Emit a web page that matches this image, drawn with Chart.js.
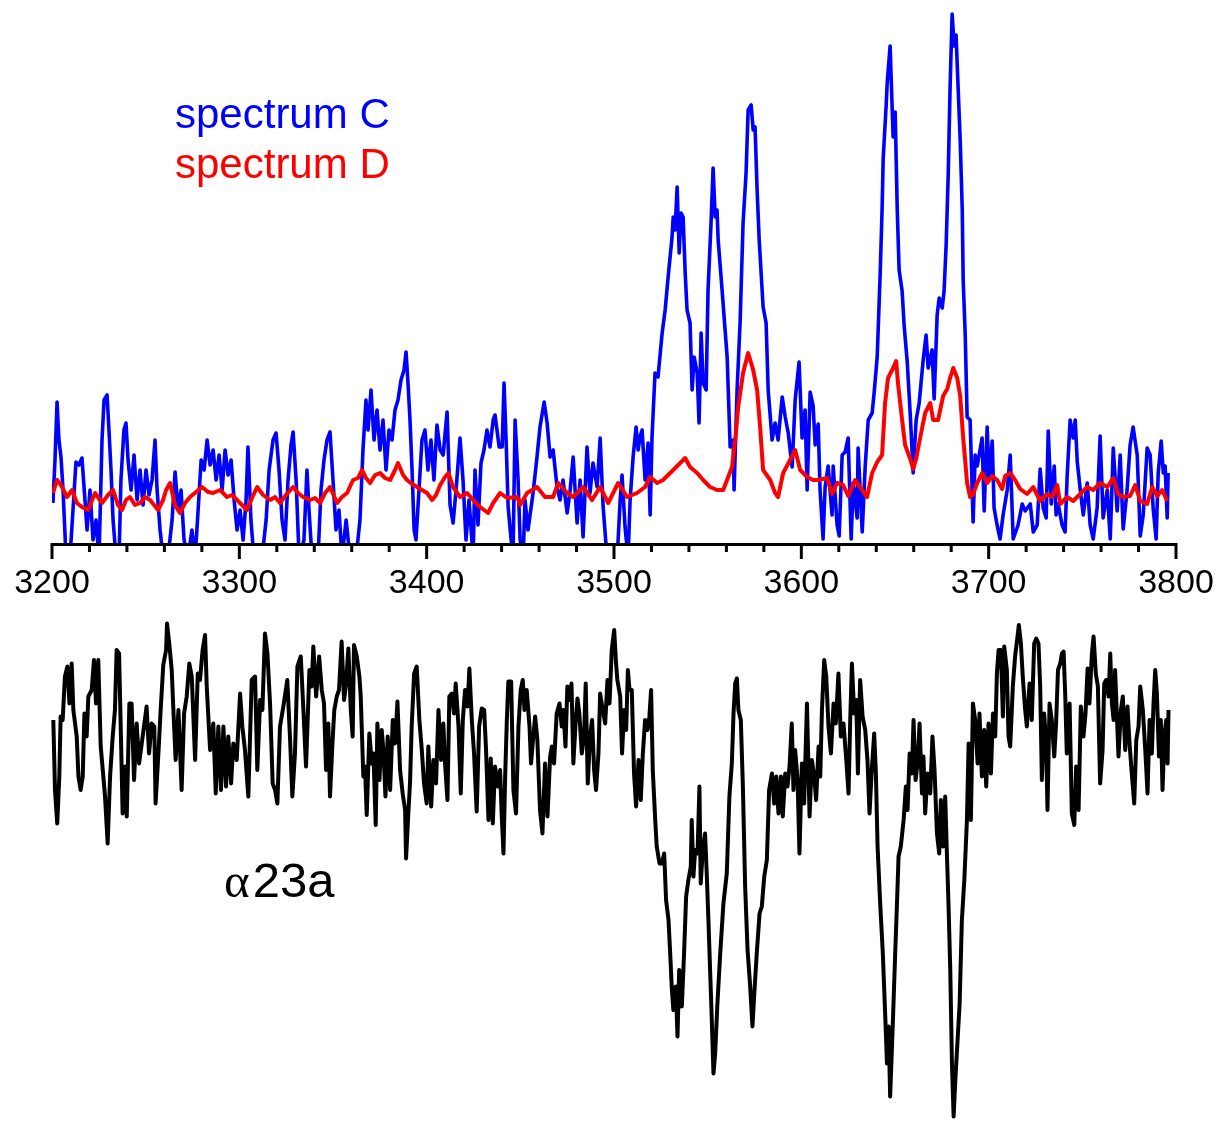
<!DOCTYPE html>
<html>
<head>
<meta charset="utf-8">
<title>spectrum C / spectrum D / α23a</title>
<script src="https://cdn.jsdelivr.net/npm/chart.js@4.4.1/dist/chart.umd.min.js"></script>
<style>
  html, body { margin: 0; padding: 0; background: #fff; }
  #wrap { position: relative; width: 1220px; height: 1126px; overflow: hidden; font-family: "Liberation Sans", Arial, sans-serif; }
  .pane { position: absolute; left: 0; width: 1220px; }
  #topPane { top: 0; height: 610px; }
  #bottomPane { top: 610px; height: 516px; }
  .label { position: absolute; white-space: nowrap; line-height: 1; }
  #labC { left: 175px; top: 93px; font-size: 42px; color: #0000ff; }
  #labD { left: 175px; top: 143px; font-size: 42px; color: #ff0000; }
  #labA { left: 224px; top: 856px; font-size: 49px; color: #000; }
  #labA .greek { font-family: "Liberation Serif", "Times New Roman", serif; letter-spacing: 3px; }
</style>
</head>
<body>
<div id="wrap">
  <div class="pane" id="topPane"><canvas id="topChart" width="1220" height="610"></canvas></div>
  <div class="pane" id="bottomPane"><canvas id="bottomChart" width="1220" height="516"></canvas></div>
  <div class="label" id="labC">spectrum C</div>
  <div class="label" id="labD">spectrum D</div>
  <div class="label" id="labA"><span class="greek">α</span>23a</div>
</div>
<script>
// x axis (wavenumber)
const X_MIN = 3200, X_MAX = 3800;
const xMajorTicks = [3200, 3300, 3400, 3500, 3600, 3700, 3800];
const MINOR_STEP = 20;

// spectrum C (blue)
const specCx = [
  3200.5,3201.6,3202.7,3203.7,3204.8,3205.9,3207.5,3209.6,3211.2,3212.8,3214.4,3216.0,3217.6,3218.7,3220.3,3221.9,3223.5,3225.1,
  3226.7,3227.8,3229.4,3230.4,3231.5,3232.6,3234.2,3235.8,3236.8,3238.4,3239.5,3240.6,3242.2,3243.8,3245.4,3247.0,3248.6,3250.2,
  3251.8,3253.4,3255.0,3256.1,3257.7,3259.3,3261.9,3264.1,3265.7,3267.3,3268.9,3270.5,3272.6,3274.7,3276.4,3278.0,3279.6,3281.2,
  3282.8,3284.4,3286.0,3287.6,3289.2,3290.8,3292.4,3294.0,3295.6,3297.2,3298.8,3300.4,3302.0,3303.6,3304.6,3306.2,3307.8,3312.1,
  3314.3,3315.9,3318.0,3319.6,3321.2,3322.8,3324.4,3326.0,3327.6,3328.7,3330.3,3331.9,3334.5,3336.1,3337.2,3338.8,3342.0,3343.6,
  3345.2,3346.8,3348.4,3350.0,3351.6,3353.2,3354.8,3357.0,3359.1,3362.3,3364.4,3366.0,3367.6,3368.7,3370.3,3371.9,3373.5,3375.1,
  3376.7,3378.3,3379.9,3381.5,3383.1,3384.7,3386.3,3387.9,3389.0,3390.1,3391.1,3392.2,3393.3,3394.3,3395.9,3397.5,3399.1,3400.7,
  3402.3,3403.9,3405.5,3407.2,3408.8,3410.9,3412.5,3414.1,3415.7,3417.8,3419.4,3421.0,3422.6,3424.8,3425.8,3427.4,3429.0,3430.6,
  3432.2,3433.8,3435.5,3436.5,3438.7,3440.3,3441.3,3442.4,3443.5,3445.1,3446.1,3447.2,3448.8,3449.9,3451.5,3452.5,3454.1,3456.8,
  3458.9,3460.5,3462.7,3464.3,3465.9,3467.5,3469.6,3471.2,3472.8,3475.0,3476.6,3478.2,3480.3,3481.9,3483.5,3485.6,3487.2,3488.8,
  3491.0,3492.6,3494.2,3496.3,3501.7,3503.3,3504.3,3505.9,3507.5,3508.6,3510.2,3511.8,3512.9,3513.9,3515.0,3516.6,3518.2,3519.3,
  3520.3,3521.9,3523.5,3525.7,3527.3,3528.9,3531.0,3531.6,3532.6,3533.7,3534.8,3535.8,3536.9,3538.0,3539.0,3540.6,3541.7,3542.8,
  3544.4,3545.4,3546.5,3547.6,3549.2,3550.2,3551.8,3552.9,3554.0,3555.0,3555.6,3557.7,3559.3,3560.4,3562.0,3563.6,3564.1,3565.7,
  3567.3,3568.9,3570.5,3571.6,3573.2,3574.3,3575.3,3576.4,3577.5,3579.6,3581.2,3582.3,3584.4,3586.0,3587.6,3589.8,3591.4,3593.0,
  3595.1,3596.7,3598.8,3600.4,3602.0,3603.1,3604.7,3606.3,3607.4,3609.0,3610.0,3611.6,3612.7,3614.3,3616.4,3617.0,3619.1,3620.2,
  3621.8,3623.4,3625.0,3626.6,3627.7,3629.8,3630.3,3632.5,3634.1,3635.7,3637.8,3638.9,3640.5,3642.1,3643.1,3643.7,3645.3,3645.8,
  3647.4,3648.5,3649.0,3650.1,3651.2,3652.2,3653.8,3654.9,3656.5,3658.1,3659.7,3661.3,3662.9,3665.0,3666.6,3667.7,3669.8,3670.9,
  3672.5,3673.6,3675.2,3676.2,3677.3,3678.4,3679.4,3680.5,3681.6,3682.6,3683.7,3684.8,3685.9,3686.4,3687.5,3688.5,3690.1,3691.7,
  3692.8,3693.9,3696.5,3697.6,3699.2,3700.3,3701.9,3702.9,3704.5,3706.1,3707.7,3709.9,3711.5,3713.1,3715.7,3717.9,3719.5,3722.2,
  3723.8,3725.9,3727.5,3729.1,3730.7,3731.8,3733.4,3735.0,3736.0,3737.1,3739.2,3740.8,3741.9,3743.5,3745.1,3746.2,3747.3,3748.9,
  3750.5,3752.6,3754.2,3755.8,3757.9,3759.5,3761.1,3763.3,3764.9,3766.5,3768.6,3770.2,3771.8,3773.9,3775.5,3777.1,3779.3,3780.9,
  3782.5,3784.6,3786.2,3787.8,3789.4,3790.5,3792.1,3793.2,3794.2,3795.3,3795.8
];
const specCy = [
  8.0,16.6,28.2,20.6,17.2,10.6,-3,-3,6.6,16.2,15.6,17.0,8.6,2.6,10.6,0.6,4.6,-3,
  20.6,28.6,29.6,22.6,14.6,4.6,-3,-3,12.6,22.6,24.0,16.6,10.6,17.6,8.6,14.6,7.6,14.6,
  9.6,12.6,20.6,10.6,2.6,-3,-3,4.6,14.2,6.6,10.6,0.6,-3,2.6,-3,6.6,16.6,14.6,
  20.6,15.6,18.6,12.6,17.6,10.6,18.6,13.6,16.6,8.6,2.6,6.6,0.6,8.6,19.2,4.6,-3,-3,
  4.6,14.6,20.6,22.0,14.6,4.6,0.6,12.6,19.6,22.2,12.6,-3,0.6,14.6,6.6,-3,-3,10.6,
  16.6,20.6,22.2,12.6,2.6,6.6,-3,4.6,-3,-3,4.6,18.6,28.6,22.6,30.6,20.6,26.6,18.6,
  24.6,14.6,22.6,20.6,26.6,28.6,32.6,34.6,38.2,31.6,24.6,14.6,2.6,0.6,10.6,20.6,22.6,14.6,
  20.6,12.6,23.6,18.6,17.6,26.2,7.6,4.0,10.6,21.0,12.6,0.6,8.6,-3,14.6,3.6,16.0,18.6,
  22.6,19.2,24.6,25.6,19.2,19.2,32.0,20.6,7.2,0.6,-3,24.6,12.6,0.6,-3,8.6,2.6,10.0,
  17.2,23.2,28.2,24.0,17.2,18.6,11.2,8.6,12.6,6.0,10.6,17.2,4.0,12.6,1.2,19.2,10.0,16.0,
  11.2,21.0,7.2,-3,-3,8.6,13.6,3.2,-3,8.6,17.2,23.2,18.6,21.2,22.6,12.6,20.0,5.6,
  21.2,34.0,33.2,42.0,46.6,53.2,61.2,65.2,62.6,71.2,58.0,66.0,65.2,54.0,46.6,44.0,30.6,37.2,
  34.0,24.0,42.0,32.0,30.6,50.6,64.0,75.0,65.2,66.6,60.6,50.6,42.6,37.2,19.2,20.6,10.6,30.6,
  44.0,64.0,74.0,86.6,87.6,82.6,83.2,70.6,60.6,47.2,44.0,30.6,20.6,24.0,20.6,29.2,25.2,22.0,
  15.2,28.6,36.2,21.0,26.6,10.6,30.2,27.4,19.6,23.8,10.6,0.8,11.2,15.4,5.6,15.4,3.6,1.4,
  17.6,18.2,21.0,0.8,12.0,5.0,19.0,2.2,15.4,24.6,26.0,30.2,37.2,54.0,66.6,77.0,87.6,91.8,
  99.4,86.8,81.2,86.2,66.6,54.6,50.4,43.4,36.4,26.0,14.0,24.6,28.0,36.4,41.6,35.0,38.6,28.8,
  45.6,49.0,47.0,50.4,59.6,73.6,91.0,105.8,99.4,101.6,91.0,80.6,66.6,52.6,41.4,25.2,24.6,4.2,
  17.6,15.4,21.0,6.4,23.2,12.6,20.4,7.0,3.6,0.8,5.6,10.6,17.6,0.8,3.6,7.8,6.4,7.8,
  2.2,3.6,14.8,7.0,5.0,22.4,7.8,15.4,5.6,7.8,3.6,2.2,13.4,24.6,21.0,24.6,16.2,10.6,
  5.6,12.0,3.6,0.8,7.0,21.4,5.0,10.6,0.8,19.0,6.4,17.6,2.8,10.6,19.6,23.2,17.6,1.4,
  5.6,19.0,17.6,7.0,0.8,14.0,20.4,14.0,15.4,5.0,14.0
];

// spectrum D (red)
const specDx = [
  3200.5,3202.7,3204.8,3208.0,3210.7,3213.3,3216.0,3219.2,3223.0,3226.7,3229.9,3232.6,3235.2,3237.4,3239.5,3241.6,3244.3,3247.0,
  3249.7,3252.3,3254.5,3256.6,3259.3,3260.9,3263.0,3265.7,3268.3,3271.0,3273.7,3276.9,3280.1,3283.3,3286.0,3289.7,3293.4,3296.1,
  3298.8,3301.4,3304.1,3306.8,3309.5,3312.7,3316.4,3319.1,3321.7,3324.9,3328.7,3331.3,3334.0,3337.8,3340.4,3343.1,3345.8,3348.4,
  3352.2,3354.8,3357.5,3360.7,3363.4,3365.5,3367.6,3369.8,3372.5,3375.1,3377.8,3380.5,3383.1,3384.7,3387.4,3389.5,3392.2,3394.9,
  3397.5,3400.2,3402.9,3405.0,3407.2,3409.8,3411.6,3414.1,3417.8,3421.6,3424.8,3428.5,3432.8,3435.5,3439.2,3442.9,3448.3,3449.9,
  3453.6,3458.9,3463.2,3467.5,3470.2,3475.0,3478.2,3483.5,3488.3,3492.6,3496.9,3502.2,3507.0,3512.3,3516.6,3519.3,3523.0,3526.2,
  3531.6,3538.0,3540.6,3544.4,3547.6,3551.3,3555.0,3558.3,3563.0,3564.7,3566.3,3568.9,3571.6,3574.3,3576.4,3578.0,3579.6,3583.4,
  3586.0,3587.6,3590.3,3594.0,3596.7,3599.4,3603.1,3606.3,3609.0,3613.8,3616.4,3619.1,3622.3,3625.0,3628.7,3631.4,3635.1,3637.8,
  3640.5,3643.1,3644.7,3646.3,3649.0,3650.6,3651.7,3653.8,3655.4,3658.1,3659.7,3661.3,3663.4,3666.1,3668.8,3670.4,3673.0,3675.7,
  3677.9,3679.4,3681.1,3683.2,3684.8,3686.4,3688.5,3690.1,3691.7,3693.9,3696.5,3699.2,3701.9,3704.5,3707.2,3708.8,3711.5,3714.1,
  3716.8,3720.5,3723.8,3727.5,3731.2,3733.9,3736.6,3738.2,3741.9,3745.1,3748.9,3752.6,3755.8,3759.5,3763.3,3766.5,3769.1,3771.8,
  3775.5,3778.2,3780.9,3784.6,3787.3,3790.0,3792.6,3795.3
];
const specDy = [
  10.0,12.6,11.6,9.2,10.6,8.0,7.2,6.6,10.0,8.0,9.6,10.6,7.6,6.6,8.6,9.2,7.6,8.0,
  9.2,8.6,7.6,6.6,8.6,10.6,12.0,7.6,6.0,8.0,9.2,10.2,11.2,10.2,10.0,10.6,9.2,9.6,
  8.6,7.6,6.6,9.0,11.2,9.6,8.6,9.2,8.0,9.6,11.2,10.0,9.2,8.6,9.0,8.0,10.0,11.2,
  8.0,9.2,10.0,12.6,13.0,14.6,13.0,12.0,13.6,14.0,13.0,12.6,14.6,16.0,13.6,12.6,11.8,11.2,
  10.6,10.0,8.6,9.6,11.6,13.2,14.0,11.2,9.2,10.0,8.6,7.2,6.0,8.0,10.0,9.0,9.2,7.6,
  10.0,11.2,9.2,9.2,12.0,10.0,9.2,11.2,8.6,11.2,8.0,12.0,9.2,10.0,11.2,13.2,12.0,12.6,
  14.6,17.0,15.2,14.0,12.6,11.2,10.6,10.6,15.2,20.6,27.2,34.0,38.0,34.6,30.6,23.2,14.6,12.6,
  10.0,9.2,14.0,16.6,18.6,14.6,13.2,12.6,12.6,13.0,9.8,12.0,11.6,9.4,12.6,11.2,9.2,14.0,
  16.2,17.6,28.0,33.0,35.0,36.4,31.6,24.6,19.6,16.8,14.8,16.8,21.0,26.0,28.0,24.6,24.6,29.4,
  30.8,33.0,35.0,33.0,29.4,21.0,12.0,9.2,9.8,12.0,14.0,12.0,13.4,12.6,10.8,13.4,14.0,12.6,
  10.8,9.8,11.2,8.4,9.8,9.2,11.6,7.8,9.2,8.4,9.8,11.2,10.6,12.0,11.2,13.0,9.8,9.2,
  9.4,11.6,8.4,7.8,11.2,9.4,10.6,8.4
];

// α23a (black, lower trace)
const alphaX = [
  3200.7,3201.6,3202.8,3203.9,3204.6,3205.7,3206.9,3208.2,3209.3,3210.5,3211.4,3213.2,3214.1,3215.3,3216.4,3217.3,3218.5,3219.4,
  3221.2,3222.4,3223.5,3224.7,3226.0,3227.4,3228.3,3229.7,3231.0,3232.4,3233.6,3234.5,3235.8,3236.8,3237.7,3239.0,3239.9,3241.3,
  3242.5,3243.8,3245.2,3246.5,3247.9,3249.1,3250.5,3251.8,3253.2,3254.6,3255.3,3256.8,3258.0,3259.4,3260.9,3261.4,3262.6,3263.9,
  3264.8,3266.0,3267.5,3269.2,3270.5,3271.9,3273.3,3274.6,3276.4,3277.8,3279.0,3280.4,3281.7,3282.6,3284.4,3286.1,3287.4,3288.8,
  3290.2,3291.5,3292.9,3294.1,3295.6,3296.8,3298.6,3300.4,3301.6,3303.0,3304.8,3306.6,3308.4,3309.6,3311.1,3312.3,3313.7,3315.0,
  3316.4,3317.8,3319.1,3320.3,3321.7,3323.5,3325.6,3327.1,3328.3,3329.7,3331.0,3332.8,3334.2,3335.6,3337.4,3338.6,3339.5,3341.0,
  3342.6,3344.0,3345.2,3346.3,3347.5,3348.4,3349.7,3350.7,3352.0,3353.2,3354.6,3355.9,3357.0,3358.2,3359.5,3360.5,3361.2,3362.7,
  3364.1,3364.8,3366.2,3367.1,3368.0,3369.4,3370.7,3371.6,3372.8,3373.7,3374.8,3376.0,3376.9,3378.0,3379.2,3380.5,3381.9,3383.1,
  3384.4,3385.8,3387.2,3388.5,3389.0,3390.2,3391.1,3392.0,3393.3,3394.7,3396.1,3397.4,3398.6,3400.0,3400.9,3402.4,3403.6,3405.0,
  3406.3,3407.7,3408.9,3409.8,3411.1,3412.1,3413.4,3414.6,3415.5,3417.0,3418.2,3419.3,3420.5,3421.8,3422.8,3424.1,3425.3,3426.7,
  3428.0,3429.4,3430.7,3431.7,3433.0,3434.2,3435.3,3436.5,3437.9,3439.2,3440.1,3441.0,3441.9,3442.8,3443.6,3445.1,3446.3,3447.7,
  3449.0,3450.2,3451.3,3452.2,3453.4,3454.9,3455.7,3456.6,3457.9,3459.1,3460.5,3461.8,3463.2,3464.5,3465.9,3466.8,3468.0,3469.4,
  3470.9,3472.1,3473.0,3474.1,3475.1,3476.2,3477.3,3478.3,3479.6,3480.5,3481.5,3482.8,3484.0,3484.9,3486.0,3487.2,3488.3,3489.4,
  3490.4,3491.7,3492.6,3494.0,3495.3,3496.5,3497.6,3498.8,3500.1,3501.1,3501.8,3503.3,3504.3,3505.4,3506.5,3507.4,3508.3,3509.5,
  3510.7,3511.8,3513.1,3514.3,3515.4,3516.6,3517.9,3518.9,3519.8,3520.7,3522.0,3522.8,3524.3,3525.5,3526.8,3527.8,3529.1,3530.0,
  3530.8,3531.7,3533.0,3533.9,3534.8,3536.2,3537.4,3538.5,3539.7,3541.0,3541.5,3542.4,3543.3,3544.6,3545.6,3546.3,3547.4,3548.6,
  3549.5,3550.4,3551.3,3552.2,3553.1,3554.0,3555.2,3556.7,3558.4,3560.2,3561.6,3562.9,3563.8,3564.7,3565.6,3566.4,3567.7,3568.8,
  3570.0,3571.3,3572.7,3573.9,3574.8,3576.2,3577.7,3578.9,3580.2,3581.6,3582.8,3584.3,3585.5,3586.6,3587.8,3589.1,3590.1,3591.4,
  3592.6,3593.7,3594.9,3595.8,3596.7,3598.0,3599.0,3600.3,3601.5,3603.0,3604.4,3605.6,3606.9,3607.9,3609.2,3610.1,3611.0,3612.2,
  3613.3,3614.5,3615.8,3617.2,3618.4,3619.8,3621.1,3622.5,3624.0,3625.2,3626.1,3627.0,3628.2,3629.3,3630.2,3631.4,3632.7,3634.1,
  3635.3,3636.4,3637.6,3638.9,3639.8,3640.7,3642.1,3643.5,3644.8,3645.7,3646.6,3647.4,3648.9,3650.1,3651.0,3651.9,3653.1,3654.6,
  3655.8,3656.7,3657.8,3659.0,3659.9,3661.0,3662.2,3663.1,3664.4,3665.2,3666.1,3667.4,3668.8,3670.0,3671.1,3672.4,3673.6,3674.5,
  3675.6,3676.8,3677.7,3678.6,3679.5,3680.4,3681.3,3682.2,3683.0,3684.5,3685.7,3687.0,3688.4,3689.3,3690.5,3691.6,3692.8,3694.1,
  3695.1,3696.4,3697.6,3698.7,3699.9,3701.2,3702.3,3703.5,3704.4,3705.3,3706.5,3707.6,3708.3,3709.7,3710.6,3711.5,3712.9,3714.1,
  3715.4,3716.1,3717.2,3718.2,3719.5,3720.4,3721.8,3723.0,3724.3,3725.4,3726.6,3727.5,3728.4,3729.6,3730.7,3731.4,3732.5,3733.7,
  3735.0,3736.0,3737.0,3738.2,3739.1,3740.0,3740.9,3741.7,3743.2,3744.4,3745.7,3746.7,3748.0,3749.2,3750.6,3751.7,3752.8,3753.8,
  3755.1,3756.0,3757.2,3758.3,3759.5,3760.8,3761.7,3762.7,3764.0,3764.9,3765.8,3766.7,3767.5,3768.4,3769.3,3770.6,3771.6,3772.9,
  3774.1,3775.2,3776.4,3777.7,3778.8,3780.0,3780.9,3782.3,3783.6,3784.8,3785.9,3787.1,3788.0,3788.9,3789.8,3790.9,3791.9,3792.8,
  3793.9,3794.8,3795.5,3796.0
];
const alphaY = [
  81.2,67.2,60.5,69.9,81.9,81.2,89.9,91.9,84.5,92.5,83.2,77.9,69.9,67.2,69.9,82.5,77.9,85.9,
  87.2,93.2,84.5,93.2,75.9,69.9,65.9,56.5,69.9,77.9,83.2,95.2,94.5,77.9,62.5,71.9,61.9,84.5,
  84.5,69.2,80.5,72.5,76.5,79.9,83.9,74.5,80.5,79.9,64.5,74.5,83.2,92.2,95.2,100.5,96.5,91.2,
  83.2,73.2,83.2,67.2,82.5,85.9,92.5,89.9,73.2,90.5,89.2,95.2,98.2,87.9,75.2,80.5,66.5,79.9,
  67.2,79.9,67.9,77.9,68.5,76.5,73.2,86.5,79.9,75.2,65.9,89.2,89.9,71.2,85.2,83.2,98.5,94.5,
  84.5,68.5,67.2,64.5,79.9,83.9,89.2,77.2,65.9,74.5,91.9,93.9,83.2,71.9,91.2,87.9,95.9,85.9,
  93.9,87.2,84.5,71.2,80.5,65.9,76.5,83.2,85.9,87.2,96.9,85.2,88.5,95.5,83.2,77.9,96.2,93.9,
  89.9,85.9,69.9,71.9,62.2,78.5,72.5,74.5,60.2,80.5,69.2,79.2,75.2,65.9,77.9,67.2,81.2,76.5,
  84.9,71.2,66.5,63.2,53.5,62.5,68.5,79.9,90.5,91.9,81.2,75.2,68.5,64.5,75.9,63.9,73.2,68.5,
  83.2,73.2,80.5,72.5,65.2,85.9,86.5,82.5,88.5,79.9,66.5,81.2,87.2,83.9,91.5,81.2,74.5,62.9,
  79.9,83.5,83.2,75.2,61.2,73.5,60.5,71.9,67.9,71.2,61.9,54.5,69.9,81.2,88.9,88.9,67.2,62.5,
  79.9,87.2,89.2,83.2,87.2,79.9,72.5,76.5,81.9,77.2,63.2,58.5,72.5,61.9,73.9,75.9,72.5,82.5,
  84.5,79.9,83.2,75.9,87.9,85.2,88.5,72.5,81.2,85.5,82.5,74.5,77.9,88.5,68.5,77.9,81.2,71.2,
  67.2,74.5,86.5,83.2,80.5,89.2,84.5,95.2,99.2,92.5,89.2,85.9,74.5,83.2,79.2,91.2,87.2,87.2,
  70.5,63.9,73.2,65.2,74.5,81.2,79.2,81.9,87.2,71.2,61.2,55.9,52.5,52.5,54.5,45.2,41.2,34.5,
  27.9,23.2,27.9,17.9,31.2,23.9,34.5,45.9,49.2,51.9,61.2,49.9,55.2,54.5,67.9,48.5,55.2,58.5,
  50.5,41.2,31.2,21.2,10.5,14.5,24.5,34.5,44.5,50.5,65.9,72.5,82.5,88.5,89.5,83.2,81.2,67.9,
  47.9,35.2,27.9,19.9,25.9,34.5,42.5,43.9,49.9,53.2,67.2,70.5,64.5,69.9,62.5,69.9,61.9,70.5,
  67.9,71.9,80.5,67.2,75.2,69.2,54.5,72.5,64.5,84.5,61.9,73.2,69.9,65.2,75.9,69.9,83.2,93.2,
  89.9,79.9,74.5,84.5,80.5,90.5,77.9,80.5,73.2,66.5,81.2,92.5,82.5,85.2,70.5,89.2,81.9,79.2,
  73.2,62.5,71.2,78.5,70.5,55.9,44.5,34.5,21.9,12.5,19.9,5.9,21.2,34.5,43.9,53.9,55.9,61.2,
  67.9,63.2,74.5,70.5,81.2,69.2,73.2,80.5,66.5,73.9,62.5,70.5,66.5,77.9,71.2,58.5,54.5,65.2,
  55.9,65.9,54.5,43.9,31.2,12.5,1.9,9.2,14.5,24.5,41.2,49.2,61.2,76.5,61.2,84.5,81.2,72.5,
  82.5,69.9,79.2,67.9,80.5,70.5,82.5,77.9,90.5,95.2,95.2,81.9,95.9,91.2,77.9,75.9,87.9,93.9,
  97.9,100.2,96.5,89.9,83.2,79.9,88.5,81.2,96.5,97.5,96.5,87.9,69.2,82.5,76.5,63.2,84.5,81.2,
  73.9,80.5,91.2,92.5,94.5,94.9,85.9,74.5,84.5,62.5,60.2,71.9,63.2,83.9,77.9,82.5,91.5,84.5,
  94.5,97.9,90.5,87.9,68.5,75.2,88.5,89.2,85.9,94.5,84.5,81.2,91.2,82.5,73.9,83.2,85.9,75.2,
  83.9,76.5,70.5,64.5,77.2,79.9,87.9,83.2,75.2,66.5,81.2,74.5,84.5,91.2,86.5,73.9,81.2,67.2,
  78.5,81.2,72.5,83.2
];

const toPoints = (xs, ys) => xs.map((x, i) => ({ x, y: ys[i] }));

const FONT = '"Liberation Sans", Arial, sans-serif';

// axis line + major/minor tick marks, positioned through the x scale
const axisTicks = {
  id: 'axisTicks',
  afterDraw(chart) {
    const sc = chart.scales.x;
    const ctx = chart.ctx;
    const y0 = sc.top + 1.5;
    ctx.save();
    ctx.strokeStyle = '#000';
    ctx.lineWidth = 3;
    ctx.beginPath();
    ctx.moveTo(sc.getPixelForValue(X_MIN) - 1.5, y0);
    ctx.lineTo(sc.getPixelForValue(X_MAX) + 1.5, y0);
    for (let v = X_MIN; v <= X_MAX; v += MINOR_STEP) {
      const px = sc.getPixelForValue(v);
      const len = xMajorTicks.includes(v) ? 16 : 9;
      ctx.moveTo(px, y0 - 1.5);
      ctx.lineTo(px, y0 - 1.5 + len);
    }
    ctx.stroke();
    ctx.restore();
  }
};

const lineStyle = (color, width) => ({
  borderColor: color,
  borderWidth: width,
  pointRadius: 0,
  tension: 0,
  fill: false,
  borderJoinStyle: 'round',
});

new Chart(document.getElementById('topChart'), {
  type: 'line',
  data: {
    datasets: [
      { label: 'spectrum D', data: toPoints(specDx, specDy), ...lineStyle('#ff0000', 4), clip: { left: 0, top: 8, right: 0, bottom: 0 } },
      { label: 'spectrum C', data: toPoints(specCx, specCy), ...lineStyle('#0000ff', 3.6), clip: { left: 0, top: 8, right: 0, bottom: 0 } },
    ]
  },
  options: {
    responsive: false,
    animation: false,
    events: [],
    layout: { padding: { left: 52, right: 44, top: 0, bottom: 0 } },
    plugins: { legend: { display: false }, tooltip: { enabled: false } },
    scales: {
      x: {
        type: 'linear',
        min: X_MIN,
        max: X_MAX,
        grid: { display: false, drawTicks: false },
        border: { display: false },
        afterBuildTicks: s => { s.ticks = xMajorTicks.map(v => ({ value: v })); },
        afterFit: s => {
          s.height = 67;
          // labels may hang past the plot edges; keep the plot box where the layout padding puts it
          s.paddingLeft = 0; s.paddingRight = 0; s.paddingTop = 0; s.paddingBottom = 0;
        },
        ticks: {
          autoSkip: false,
          maxRotation: 0,
          padding: 20,
          color: '#000',
          font: { family: FONT, size: 34 },
          callback: v => String(v),
        }
      },
      y: { display: false, min: 0, max: 108.6 }
    }
  },
  plugins: [axisTicks]
});

new Chart(document.getElementById('bottomChart'), {
  type: 'line',
  data: {
    datasets: [
      { label: 'α23a', data: toPoints(alphaX, alphaY), ...lineStyle('#000000', 4), clip: false },
    ]
  },
  options: {
    responsive: false,
    animation: false,
    events: [],
    layout: { padding: { left: 52, right: 44, top: 0, bottom: 0 } },
    plugins: { legend: { display: false }, tooltip: { enabled: false } },
    scales: {
      x: { type: 'linear', display: false, min: X_MIN, max: X_MAX },
      y: { display: false, min: 0, max: 103.2 }
    }
  }
});
</script>
</body>
</html>
